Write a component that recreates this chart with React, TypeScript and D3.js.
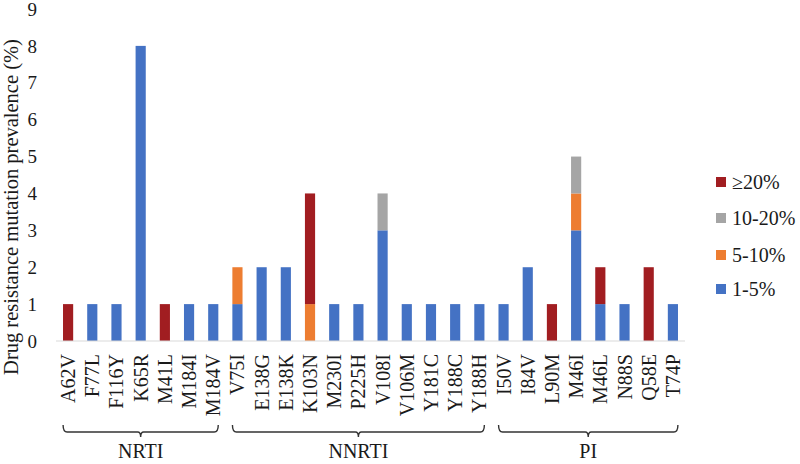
import React from "react";
import * as d3 from "d3";

const categories = ["A62V","F77L","F116Y","K65R","M41L","M184I","M184V","V75I","E138G","E138K","K103N","M230I","P225H","V108I","V106M","Y181C","Y188C","Y188H","I50V","I84V","L90M","M46I","M46L","N88S","Q58E","T74P"];
const groups = [
  { name: "NRTI", first: "A62V", last: "M184V" },
  { name: "NNRTI", first: "V75I", last: "Y188H" },
  { name: "PI", first: "I50V", last: "T74P" },
];
const seriesNames = ["1-5%", "5-10%", "10-20%", "≥20%"];
const seriesColors = ["#4472C4", "#ED7D31", "#A5A5A5", "#A11D21"];
const s1to5 = [0,1,1,8,0,1,1,1,2,2,0,1,1,3,1,1,1,1,1,2,0,3,1,1,0,1];
const s5to10 = [0,0,0,0,0,0,0,1,0,0,1,0,0,0,0,0,0,0,0,0,0,1,0,0,0,0];
const s10to20 = [0,0,0,0,0,0,0,0,0,0,0,0,0,1,0,0,0,0,0,0,0,1,0,0,0,0];
const s20plus = [1,0,0,0,1,0,0,0,0,0,3,0,0,0,0,0,0,0,0,0,1,0,1,0,2,0];
const yTicks = [0,1,2,3,4,5,6,7,8,9];

export default function App() {
  const W = 800, H = 464;
  const left = 56, right = 685, top = 9, bottom = 341;
  const x = d3.scaleBand<string>().domain(categories).range([left, right]).paddingInner(0.58).paddingOuter(0.29);
  const y = d3.scaleLinear().domain([0, 9]).range([bottom, top]);
  const rows = categories.map((c, i) => ({ cat: c, s0: s1to5[i], s1: s5to10[i], s2: s10to20[i], s3: s20plus[i] }));
  const stacked = d3.stack<any>().keys(["s0", "s1", "s2", "s3"])(rows);
  const font = "'Liberation Serif', 'Times New Roman', serif";
  const bw = x.bandwidth();
  const ink = "#1a1a1a";

  const brace = (x0: number, x1: number, yl: number) => {
    const mid = (x0 + x1) / 2;
    const r = 4;
    return `M${x0},${yl - 7} Q${x0},${yl} ${x0 + r},${yl} L${mid - 3},${yl} Q${mid},${yl} ${mid},${yl + 5} Q${mid},${yl} ${mid + 3},${yl} L${x1 - r},${yl} Q${x1},${yl} ${x1},${yl - 7}`;
  };

  return (
    <svg width={W} height={H} style={{ display: "block", position: "absolute", left: 0, top: 0 }} fontFamily={font}>
      <rect width={W} height={H} fill="#fff" />
      {stacked.map((layer, li) => (
        <g key={li} fill={seriesColors[li]}>
          {layer.map((d: any, i: number) =>
            d[1] - d[0] > 0 ? (
              <rect key={i} x={x(categories[i])} y={y(d[1])} width={bw} height={y(d[0]) - y(d[1])} />
            ) : null
          )}
        </g>
      ))}
      <line x1={left} x2={right} y1={bottom} y2={bottom} stroke="#d9d9d9" strokeWidth={1} />
      {yTicks.map((t) => (
        <text key={t} x={37} y={y(t)} dy="0.35em" textAnchor="end" fontSize={19} fill={ink}>{t}</text>
      ))}
      <text transform={`translate(18,207) rotate(-90)`} textAnchor="middle" fontSize={20.5} fill={ink}>Drug resistance mutation prevalence (%)</text>
      {categories.map((c) => (
        <text key={c} transform={`translate(${(x(c) as number) + bw / 2},354) rotate(-90)`} dy="0.35em" textAnchor="end" fontSize={20} fill={ink}>{c}</text>
      ))}
      {groups.map((g) => {
        const x0 = (x(g.first) as number) + bw / 2 - 5;
        const x1 = (x(g.last) as number) + bw / 2 + 5;
        return (
          <g key={g.name}>
            <path d={brace(x0, x1, 432)} fill="none" stroke="#333" strokeWidth={1.4} />
            <text x={(x0 + x1) / 2} y={458} textAnchor="middle" fontSize={20} fill={ink}>{g.name}</text>
          </g>
        );
      })}
      {seriesNames.slice().reverse().map((n, i) => {
        const ci = seriesNames.length - 1 - i;
        const yy = [182, 218, 255, 289][i];
        return (
          <g key={n}>
            <rect x={716} y={yy - 5} width={10} height={10} fill={seriesColors[ci]} />
            <text x={732} y={yy} dy="0.35em" fontSize={20} fill={ink}>{n}</text>
          </g>
        );
      })}
    </svg>
  );
}
